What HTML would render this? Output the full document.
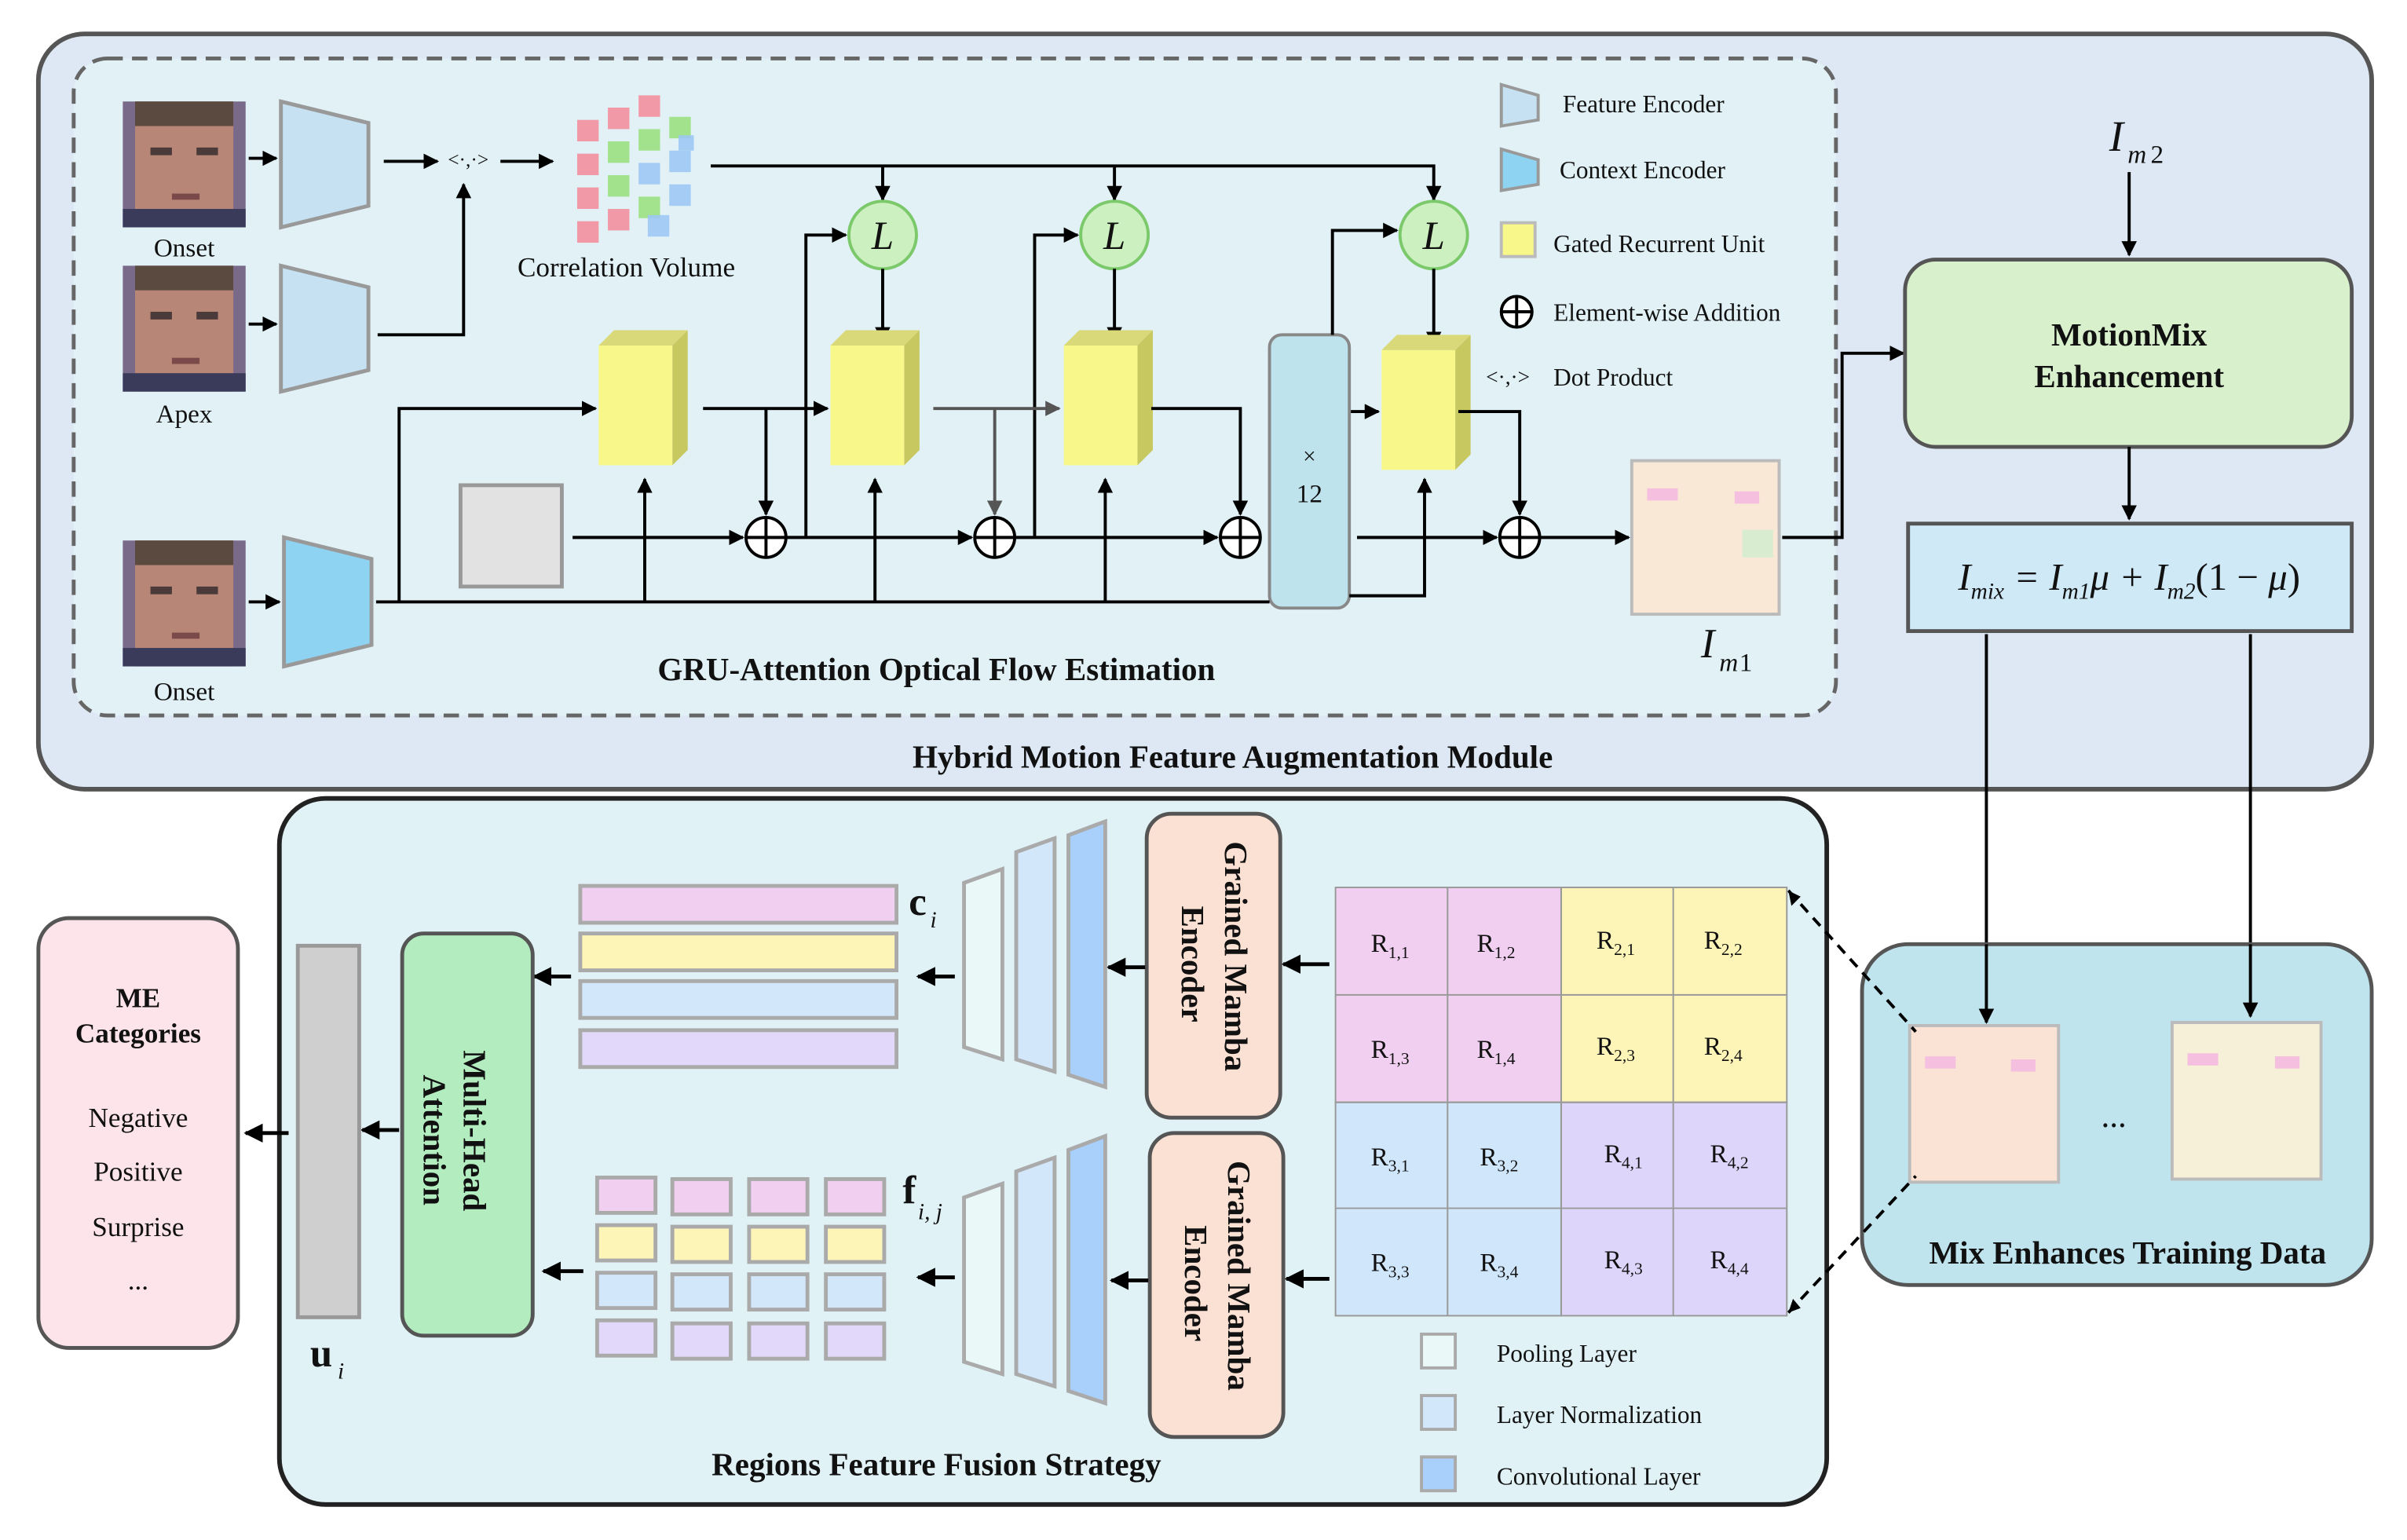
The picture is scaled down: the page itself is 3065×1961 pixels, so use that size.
<!DOCTYPE html>
<html><head><meta charset="utf-8"><style>
html,body{margin:0;padding:0;background:#fff}
svg{display:block}
text{font-family:"Liberation Serif",serif;fill:#111}
.b{font-weight:bold}
</style></head><body>
<svg width="3065" height="1961" viewBox="0 0 1568 1003" xmlns="http://www.w3.org/2000/svg">
<defs>
<marker id="a" viewBox="0 0 10 10" refX="9" refY="5" markerWidth="5" markerHeight="5" orient="auto"><path d="M0,0L10,5L0,10z" fill="#000"/></marker>
<marker id="ag" viewBox="0 0 10 10" refX="9" refY="5" markerWidth="5" markerHeight="5" orient="auto"><path d="M0,0L10,5L0,10z" fill="#555"/></marker>
<g id="face"><rect width="80" height="82" fill="#7a6a8a"/><rect x="8" y="0" width="64" height="82" fill="#b88676"/><rect x="8" y="0" width="64" height="16" fill="#5a4a40"/><rect x="18" y="30" width="14" height="5" fill="#4a3a3a"/><rect x="48" y="30" width="14" height="5" fill="#4a3a3a"/><rect x="32" y="60" width="18" height="4" fill="#7a4a4a"/><rect x="0" y="70" width="80" height="12" fill="#3a3a5a"/></g>
<g id="gru"><path d="M0,10L10,0L58,0L48,10z" fill="#d9d97a"/><path d="M48,10L58,0L58,78L48,88z" fill="#c8c860"/><rect x="0" y="10" width="48" height="78" fill="#f7f78a"/></g>
<g id="plus"><circle r="13" fill="#fff" stroke="#000" stroke-width="2"/><path d="M-13,0H13M0,-13V13" stroke="#000" stroke-width="2"/></g>
<g id="L"><circle r="22" fill="#cdf0c0" stroke="#7bc96b" stroke-width="2"/><text x="0" y="9" text-anchor="middle" font-size="26" font-style="italic">L</text></g>
</defs>

<!-- top panel -->
<rect x="25" y="22" width="1520" height="492" rx="30" fill="#dde8f4" stroke="#555" stroke-width="3"/>
<rect x="48" y="38" width="1148" height="428" rx="22" fill="#e1f1f6" stroke="#666" stroke-width="2.5" stroke-dasharray="10,6"/>
<text x="803" y="500" text-anchor="middle" font-size="21" class="b">Hybrid Motion Feature Augmentation Module</text>
<text x="610" y="443" text-anchor="middle" font-size="21" class="b">GRU-Attention Optical Flow Estimation</text>

<use href="#face" x="80" y="66"/><text x="120" y="167" text-anchor="middle" font-size="17">Onset</text>
<use href="#face" x="80" y="173"/><text x="120" y="275" text-anchor="middle" font-size="17">Apex</text>
<use href="#face" x="80" y="352"/><text x="120" y="456" text-anchor="middle" font-size="17">Onset</text>

<path d="M183,66L240,80L240,134L183,148z" fill="#c6e2f2" stroke="#999" stroke-width="2.5"/>
<path d="M183,173L240,187L240,241L183,255z" fill="#c6e2f2" stroke="#999" stroke-width="2.5"/>
<path d="M185,350L242,364L242,420L185,434z" fill="#8fd3f2" stroke="#999" stroke-width="2.5"/>

<g stroke="#000" stroke-width="2" fill="none" marker-end="url(#a)">
<path d="M162,103H180"/><path d="M162,211H180"/><path d="M162,392H182"/>
<path d="M250,105H285"/><path d="M326,105H360"/>
<path d="M246,218H302V120"/>
</g>
<text x="305" y="108" text-anchor="middle" font-size="13">&lt;·,·&gt;</text>

<!-- correlation volume -->
<g>
<g fill="#f58a9a" opacity="0.85">
<rect x="376" y="78" width="14" height="14"/><rect x="396" y="70" width="14" height="14"/><rect x="416" y="62" width="14" height="14"/>
<rect x="376" y="100" width="14" height="14"/><rect x="376" y="122" width="14" height="14"/><rect x="376" y="144" width="14" height="14"/><rect x="396" y="136" width="14" height="14"/></g>
<g fill="#98e07a" opacity="0.85"><rect x="396" y="92" width="14" height="14"/><rect x="416" y="84" width="14" height="14"/><rect x="396" y="114" width="14" height="14"/><rect x="416" y="128" width="14" height="14"/><rect x="436" y="76" width="14" height="14"/></g>
<g fill="#9ec8f4" opacity="0.9"><rect x="416" y="106" width="14" height="14"/><rect x="436" y="98" width="14" height="14"/><rect x="436" y="120" width="14" height="14"/><rect x="422" y="140" width="14" height="14"/><rect x="442" y="88" width="10" height="10"/></g>
</g>
<text x="408" y="180" text-anchor="middle" font-size="18">Correlation Volume</text>

<g stroke="#000" stroke-width="2" fill="none" marker-end="url(#a)">
<path d="M463,108H934V130"/><path d="M575,108V130"/><path d="M726,108V130"/>
</g>

<use href="#L" x="575" y="153"/><use href="#L" x="726" y="153"/><use href="#L" x="934" y="153"/>
<g stroke="#000" stroke-width="2" fill="none" marker-end="url(#a)">
<path d="M575,175V222"/><path d="M726,175V222"/><path d="M934,175V225"/>
</g>

<use href="#gru" x="390" y="215"/><use href="#gru" x="541" y="215"/><use href="#gru" x="693" y="215"/><use href="#gru" x="900" y="218"/>

<rect x="300" y="316" width="66" height="66" fill="#e2e2e2" stroke="#999" stroke-width="2.5"/>
<rect x="827" y="218" width="52" height="178" rx="8" fill="#bfe3ec" stroke="#888" stroke-width="2"/>
<text x="853" y="302" text-anchor="middle" font-size="15">×</text><text x="853" y="327" text-anchor="middle" font-size="17">12</text>

<path d="M245,392H827" stroke="#000" stroke-width="2" fill="none"/>
<g stroke="#000" stroke-width="2" fill="none" marker-end="url(#a)">
<path d="M260,392V266H388"/>
<path d="M420,392V312"/><path d="M570,392V312"/><path d="M720,392V312"/>
<path d="M879,388H928V312"/>
<path d="M373,350H484"/><path d="M512,350H633"/><path d="M661,350H793"/><path d="M884,350H975"/><path d="M1003,350H1061"/>
<path d="M458,266H539"/><path d="M499,266V335"/>
<path d="M750,266H808V335"/><path d="M950,268H990V335"/>
<path d="M525,350V153H551"/><path d="M674,350V153H702"/><path d="M868,218V150H910"/>
<path d="M880,268H898"/>
</g>
<g stroke="#555" stroke-width="2" fill="none" marker-end="url(#ag)">
<path d="M608,266H690"/><path d="M648,266V335"/>
</g>
<use href="#plus" x="499" y="350"/><use href="#plus" x="648" y="350"/><use href="#plus" x="808" y="350"/><use href="#plus" x="990" y="350"/>

<!-- Im1 -->
<rect x="1063" y="300" width="96" height="100" fill="#fae8d6" stroke="#bbb" stroke-width="2"/>
<rect x="1073" y="318" width="20" height="8" fill="#f5c0e0"/><rect x="1130" y="320" width="16" height="8" fill="#f5c0e0"/><rect x="1135" y="345" width="20" height="18" fill="#d8ecd0"/>
<text x="1108" y="428" font-size="27" font-style="italic">I</text><text x="1120" y="437" font-size="17" font-style="italic">m</text><text x="1133" y="437" font-size="17">1</text>
<path d="M1161,350H1200V230H1240" stroke="#000" stroke-width="2" fill="none" marker-end="url(#a)"/>

<!-- legend -->
<path d="M978,55L1002,62L1002,78L978,82z" fill="#c6e2f2" stroke="#999" stroke-width="2"/><text x="1018" y="73" font-size="16">Feature Encoder</text>
<path d="M978,97L1002,104L1002,120L978,124z" fill="#8fd3f2" stroke="#999" stroke-width="2"/><text x="1016" y="116" font-size="16">Context Encoder</text>
<rect x="978" y="145" width="22" height="22" fill="#f7f78a" stroke="#bbb" stroke-width="2"/><text x="1012" y="164" font-size="16">Gated Recurrent Unit</text>
<circle cx="988" cy="203" r="10" fill="#fff" stroke="#000" stroke-width="2"/><path d="M978,203H998M988,193V213" stroke="#000" stroke-width="2"/><text x="1012" y="209" font-size="16">Element-wise Addition</text>
<text x="968" y="250" font-size="14">&lt;·,·&gt;</text><text x="1012" y="251" font-size="16">Dot Product</text>

<!-- Im2 & MotionMix -->
<text x="1374" y="98" font-size="28" font-style="italic">I</text><text x="1386" y="106" font-size="17" font-style="italic">m</text><text x="1401" y="106" font-size="17">2</text>
<path d="M1387,112V166" stroke="#000" stroke-width="2" marker-end="url(#a)"/>
<rect x="1241" y="169" width="291" height="122" rx="20" fill="#d8f0cc" stroke="#555" stroke-width="2.5"/>
<text x="1387" y="225" text-anchor="middle" font-size="21" class="b">MotionMix</text>
<text x="1387" y="252" text-anchor="middle" font-size="21" class="b">Enhancement</text>
<path d="M1387,291V338" stroke="#000" stroke-width="2" marker-end="url(#a)"/>
<rect x="1243" y="341" width="289" height="70" fill="#cfe9f7" stroke="#555" stroke-width="2.5"/>
<text x="1387" y="384" text-anchor="middle" font-size="25" font-style="italic">I<tspan font-size="15" dy="6">mix</tspan><tspan dy="-6"> = I</tspan><tspan font-size="15" dy="6">m1</tspan><tspan dy="-6">μ + I</tspan><tspan font-size="15" dy="6">m2</tspan><tspan dy="-6" font-style="normal">(1 − </tspan>μ<tspan font-style="normal">)</tspan></text>
<path d="M1294,413V666" stroke="#000" stroke-width="2" marker-end="url(#a)"/>
<path d="M1466,413V662" stroke="#000" stroke-width="2" marker-end="url(#a)"/>

<!-- Mix enhances panel -->
<rect x="1213" y="615" width="332" height="222" rx="30" fill="#bfe4ee" stroke="#555" stroke-width="2.5"/>
<path d="M1294,615V666" stroke="#000" stroke-width="2" marker-end="url(#a)"/>
<path d="M1466,615V662" stroke="#000" stroke-width="2" marker-end="url(#a)"/>
<rect x="1244" y="668" width="97" height="102" fill="#fae3d4" stroke="#bbb" stroke-width="2"/>
<rect x="1254" y="688" width="20" height="8" fill="#f5c0e0"/><rect x="1310" y="690" width="16" height="8" fill="#f5c0e0"/>
<text x="1377" y="734" text-anchor="middle" font-size="22">...</text>
<rect x="1415" y="666" width="97" height="102" fill="#f6f0d8" stroke="#bbb" stroke-width="2"/>
<rect x="1425" y="686" width="20" height="8" fill="#f5c0e0"/><rect x="1482" y="688" width="16" height="8" fill="#f5c0e0"/>
<text x="1386" y="823" text-anchor="middle" font-size="21" class="b">Mix Enhances Training Data</text>

<!-- bottom panel -->
<rect x="182" y="520" width="1008" height="460" rx="30" fill="#e0f2f6" stroke="#222" stroke-width="3"/>
<text x="610" y="961" text-anchor="middle" font-size="21" class="b">Regions Feature Fusion Strategy</text>

<path d="M1165,580L1248,672M1165,855L1248,766" stroke="#000" stroke-width="2" stroke-dasharray="7,5" fill="none"/>
<path d="M1165,580l2,10l6,-6z M1165,855l8,-3l-5,-6z" fill="#000"/>

<g stroke="#999" stroke-width="1">
<rect x="870" y="578" width="147" height="140" fill="#f1cff0"/>
<rect x="1017" y="578" width="147" height="140" fill="#fdf5b8"/>
<rect x="870" y="718" width="147" height="139" fill="#d0e6fb"/>
<rect x="1017" y="718" width="147" height="139" fill="#ddd6fa"/>
<path d="M943,578V857M1017,578V857M1090,578V857M870,648H1164M870,718H1164M870,787H1164" fill="none"/>
</g>
<g font-size="17">
<text x="893" y="620">R<tspan font-size="11" dy="4">1,1</tspan></text><text x="962" y="620">R<tspan font-size="11" dy="4">1,2</tspan></text>
<text x="1040" y="618">R<tspan font-size="11" dy="4">2,1</tspan></text><text x="1110" y="618">R<tspan font-size="11" dy="4">2,2</tspan></text>
<text x="893" y="689">R<tspan font-size="11" dy="4">1,3</tspan></text><text x="962" y="689">R<tspan font-size="11" dy="4">1,4</tspan></text>
<text x="1040" y="687">R<tspan font-size="11" dy="4">2,3</tspan></text><text x="1110" y="687">R<tspan font-size="11" dy="4">2,4</tspan></text>
<text x="893" y="759">R<tspan font-size="11" dy="4">3,1</tspan></text><text x="964" y="759">R<tspan font-size="11" dy="4">3,2</tspan></text>
<text x="1045" y="757">R<tspan font-size="11" dy="4">4,1</tspan></text><text x="1114" y="757">R<tspan font-size="11" dy="4">4,2</tspan></text>
<text x="893" y="828">R<tspan font-size="11" dy="4">3,3</tspan></text><text x="964" y="828">R<tspan font-size="11" dy="4">3,4</tspan></text>
<text x="1045" y="826">R<tspan font-size="11" dy="4">4,3</tspan></text><text x="1114" y="826">R<tspan font-size="11" dy="4">4,4</tspan></text>
</g>

<rect x="747" y="530" width="87" height="198" rx="16" fill="#fbe0d4" stroke="#555" stroke-width="2.5"/>
<rect x="749" y="738" width="87" height="198" rx="16" fill="#fbe0d4" stroke="#555" stroke-width="2.5"/>
<text transform="translate(798,548) rotate(90)" font-size="21" class="b">Grained Mamba</text>
<text transform="translate(770,590) rotate(90)" font-size="21" class="b">Encoder</text>
<text transform="translate(800,756) rotate(90)" font-size="21" class="b">Grained Mamba</text>
<text transform="translate(772,798) rotate(90)" font-size="21" class="b">Encoder</text>
<g stroke="#000" stroke-width="2.5" fill="none" marker-end="url(#a)">
<path d="M866,628H836"/><path d="M866,833H838"/><path d="M746,630H722"/><path d="M748,834H724"/>
<path d="M622,636H598"/><path d="M622,832H598"/>
<path d="M372,636H348"/><path d="M380,828H354"/>
<path d="M260,736H236"/><path d="M188,738H160"/>
</g>

<g stroke="#aaa" stroke-width="2.5">
<path d="M628,575L653,566L653,690L628,682z" fill="#eaf8f8"/>
<path d="M662,555L687,546L687,698L662,690z" fill="#d3e7fb"/>
<path d="M696,544L720,535L720,708L696,700z" fill="#a8d0fb"/>
<path d="M628,780L653,771L653,895L628,887z" fill="#eaf8f8"/>
<path d="M662,763L687,754L687,903L662,895z" fill="#d3e7fb"/>
<path d="M696,749L720,740L720,914L696,906z" fill="#a8d0fb"/>
</g>
<text x="592" y="596" font-size="26" class="b">c</text><text x="606" y="604" font-size="15" font-style="italic">i</text>
<text x="588" y="784" font-size="26" class="b">f</text><text x="598" y="794" font-size="15" font-style="italic">i, j</text>

<g stroke="#aaa" stroke-width="2.5">
<rect x="378" y="577" width="206" height="24" fill="#f1cff0"/>
<rect x="378" y="608" width="206" height="24" fill="#fdf5b8"/>
<rect x="378" y="639" width="206" height="24" fill="#d3e7fb"/>
<rect x="378" y="671" width="206" height="24" fill="#e1d8fa"/>
<g fill="#f1cff0"><rect x="389" y="767" width="38" height="23"/><rect x="438" y="768" width="38" height="23"/><rect x="488" y="768" width="38" height="23"/><rect x="538" y="768" width="38" height="23"/></g>
<g fill="#fdf5b8"><rect x="389" y="798" width="38" height="23"/><rect x="438" y="799" width="38" height="23"/><rect x="488" y="799" width="38" height="23"/><rect x="538" y="799" width="38" height="23"/></g>
<g fill="#d3e7fb"><rect x="389" y="829" width="38" height="23"/><rect x="438" y="830" width="38" height="23"/><rect x="488" y="830" width="38" height="23"/><rect x="538" y="830" width="38" height="23"/></g>
<g fill="#e1d8fa"><rect x="389" y="860" width="38" height="23"/><rect x="438" y="862" width="38" height="23"/><rect x="488" y="862" width="38" height="23"/><rect x="538" y="862" width="38" height="23"/></g>
</g>

<rect x="262" y="608" width="85" height="262" rx="14" fill="#b2ecbf" stroke="#555" stroke-width="2.5"/>
<text transform="translate(302,684) rotate(90)" font-size="21" class="b">Multi-Head</text>
<text transform="translate(276,700) rotate(90)" font-size="21" class="b">Attention</text>
<rect x="194" y="616" width="40" height="242" fill="#cfcfcf" stroke="#999" stroke-width="2.5"/>
<text x="202" y="890" font-size="26" class="b">u</text><text x="220" y="898" font-size="15" font-style="italic">i</text>

<rect x="25" y="598" width="130" height="280" rx="20" fill="#fde4ea" stroke="#555" stroke-width="2.5"/>
<text x="90" y="656" text-anchor="middle" font-size="18" class="b">ME</text>
<text x="90" y="679" text-anchor="middle" font-size="18" class="b">Categories</text>
<text x="90" y="734" text-anchor="middle" font-size="18">Negative</text>
<text x="90" y="769" text-anchor="middle" font-size="18">Positive</text>
<text x="90" y="805" text-anchor="middle" font-size="18">Surprise</text>
<text x="90" y="840" text-anchor="middle" font-size="18">...</text>

<rect x="926" y="869" width="22" height="22" fill="#eaf8f8" stroke="#aaa" stroke-width="2"/><text x="975" y="887" font-size="16">Pooling Layer</text>
<rect x="926" y="909" width="22" height="22" fill="#d3e7fb" stroke="#aaa" stroke-width="2"/><text x="975" y="927" font-size="16">Layer Normalization</text>
<rect x="926" y="949" width="22" height="22" fill="#a8d0fb" stroke="#aaa" stroke-width="2"/><text x="975" y="967" font-size="16">Convolutional Layer</text>
</svg>
</body></html>
